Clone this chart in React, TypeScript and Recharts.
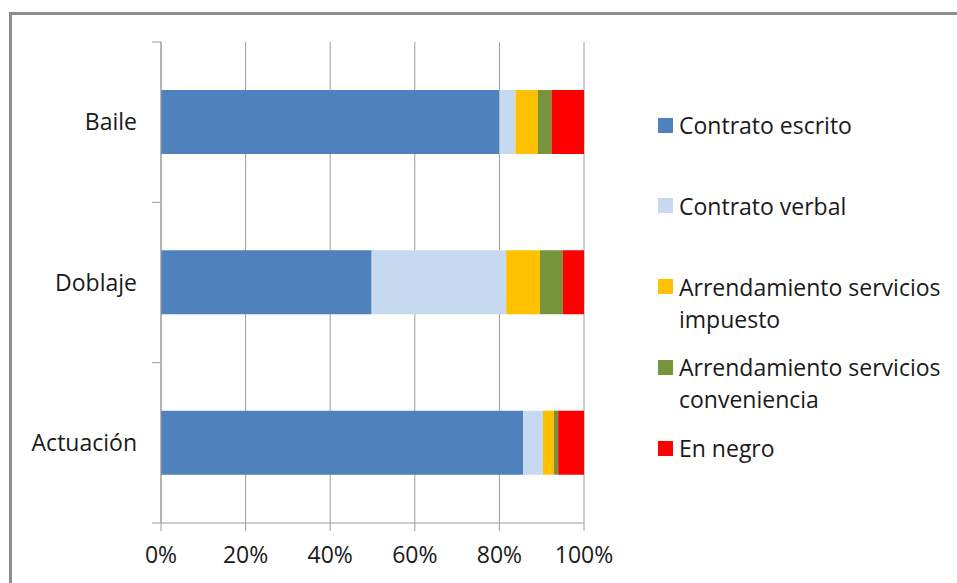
import React from 'react';
import { BarChart, Bar, XAxis, YAxis, CartesianGrid } from 'recharts';

const categories = ['Baile', 'Doblaje', 'Actuación'];
const contratoEscrito = [80.0, 49.8, 85.6];
const contratoVerbal = [3.8, 31.8, 4.7];
const arrImpuesto = [5.3, 8.0, 2.6];
const arrConveniencia = [3.2, 5.4, 1.0];
const enNegro = [7.7, 5.0, 6.1];
const xTicks = [0, 0.2, 0.4, 0.6, 0.8, 1];

const series = [
  { key: 'escrito', name: 'Contrato escrito', values: contratoEscrito, color: '#4F81BD' },
  { key: 'verbal', name: 'Contrato verbal', values: contratoVerbal, color: '#C6D9F1' },
  { key: 'impuesto', name: 'Arrendamiento servicios impuesto', values: arrImpuesto, color: '#FFC000' },
  { key: 'conveniencia', name: 'Arrendamiento servicios conveniencia', values: arrConveniencia, color: '#77933C' },
  { key: 'negro', name: 'En negro', values: enNegro, color: '#FF0000' },
];

const data = categories.map((c, i) => {
  const row: Record<string, any> = { cat: c };
  series.forEach((s) => (row[s.key] = s.values[i]));
  return row;
});

const W = 957;
const H = 583;
const MARGIN = { top: 42, right: 373, bottom: 20, left: 21 };
const X_AXIS_H = 40;
const PLOT_H = H - MARGIN.top - MARGIN.bottom - X_AXIS_H;
const FONT = '"Open Sans", sans-serif';
const AXIS = '#9c9c9c';
const TEXT = '#1a1a1a';

const YTick = (props: any) => {
  const { x, y, payload, index } = props;
  const band = PLOT_H / categories.length;
  return (
    <g>
      <text x={x - 24} y={y} dy="0.35em" textAnchor="end" fontFamily={FONT} fontSize={23} fill={TEXT}>
        {payload.value}
      </text>
      <line x1={x - 9} x2={x} y1={y - band / 2} y2={y - band / 2} stroke={AXIS} />
      {index === categories.length - 1 && (
        <line x1={x - 9} x2={x} y1={y + band / 2} y2={y + band / 2} stroke={AXIS} />
      )}
    </g>
  );
};

const LegendBox = () => (
  <div style={{ position: 'absolute', left: 658, top: 109, fontFamily: FONT, fontSize: 23, color: TEXT }}>
    {series.map((s) => (
      <div key={s.key} style={{ height: 80.75, display: 'flex', alignItems: 'flex-start' }}>
        <div style={{ width: 15, height: 15, background: s.color, marginTop: 8.5, marginRight: 6, flex: 'none' }} />
        <div style={{ width: 275, lineHeight: '32px' }}>{s.name}</div>
      </div>
    ))}
  </div>
);

export default function App() {
  return (
    <div style={{ position: 'absolute', left: 0, top: 0, width: W, height: H, overflow: 'hidden', background: '#fff' }}>
      <div
        style={{
          position: 'absolute',
          left: 9,
          top: 12,
          width: 1200,
          height: 1200,
          borderLeft: '3px solid #8c8c8c',
          borderTop: '3px solid #8c8c8c',
        }}
      />
      <div style={{ position: 'absolute', left: 0, top: 0 }}>
        <BarChart width={W} height={H} data={data} layout="vertical" stackOffset="expand" margin={MARGIN}>
          <CartesianGrid vertical horizontal={false} stroke={AXIS} />
          <XAxis
            type="number"
            domain={[0, 1]}
            ticks={xTicks}
            interval={0}
            tickFormatter={(v: number) => `${Math.round(v * 100)}%`}
            height={X_AXIS_H}
            tickSize={8}
            tickMargin={16}
            stroke={AXIS}
            tick={{ fontFamily: FONT, fontSize: 23, fill: TEXT }}
            axisLine={{ stroke: AXIS }}
            tickLine={{ stroke: AXIS }}
          />
          <YAxis
            type="category"
            dataKey="cat"
            width={140}
            tickSize={0}
            tickMargin={0}
            tickLine={false}
            axisLine={{ stroke: AXIS }}
            tick={<YTick />}
          />
          {series.map((s) => (
            <Bar key={s.key} dataKey={s.key} name={s.name} stackId="a" fill={s.color} barSize={64} isAnimationActive={false} />
          ))}
        </BarChart>
      </div>
      <LegendBox />
    </div>
  );
}
